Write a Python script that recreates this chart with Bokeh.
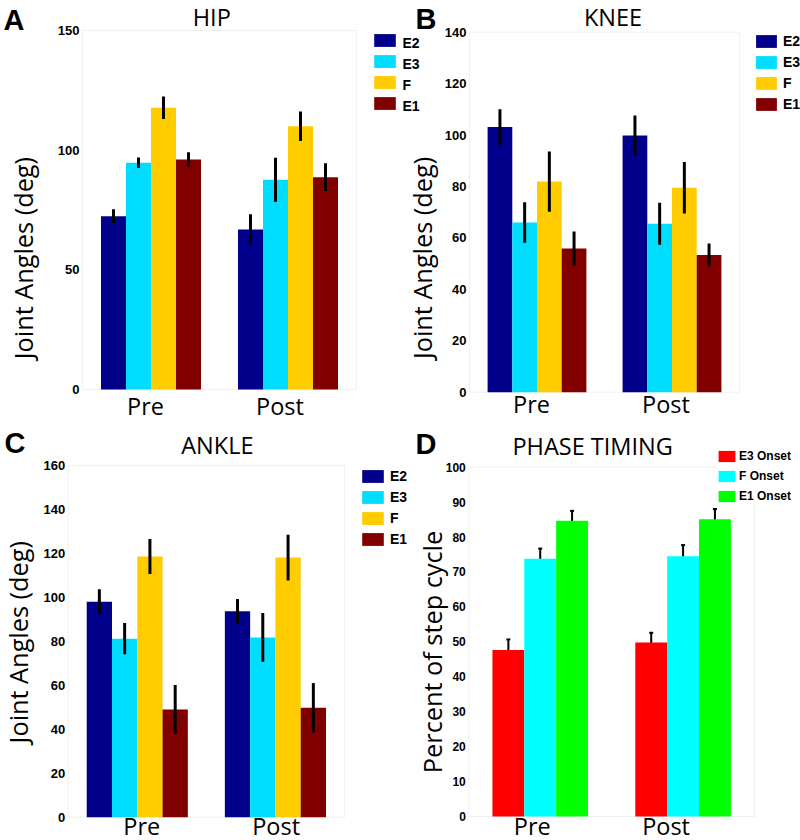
import math
from bokeh.plotting import figure
from bokeh.models import (ColumnDataSource, Range1d, FixedTicker, LinearAxis,
                          Legend, LegendItem, Label, Whisker, TeeHead,
                          BoxAnnotation)
from bokeh.layouts import row, column
from bokeh.transform import dodge
from bokeh.embed import file_html
from bokeh.resources import INLINE

# ---------------- data ----------------
groups = ["Pre", "Post"]

joint_series = ["E2", "E3", "F", "E1"]
joint_colors = ["#00008B", "#00DDFF", "#FFCC00", "#800000"]

hip_pre = [72.4, 94.7, 117.7, 96.1]
hip_pre_err = [2.9, 2.2, 4.7, 3.0]
hip_post = [66.9, 87.6, 110.0, 88.7]
hip_post_err = [6.3, 9.2, 6.2, 5.8]
hip_ticks = [0, 50, 100, 150]

knee_pre = [103.1, 66.0, 81.9, 55.9]
knee_pre_err = [6.9, 7.9, 11.7, 6.6]
knee_post = [99.8, 65.5, 79.5, 53.4]
knee_post_err = [7.8, 8.2, 10.0, 4.4]
knee_ticks = [0, 20, 40, 60, 80, 100, 120, 140]

ankle_pre = [98.0, 81.2, 118.6, 49.0]
ankle_pre_err = [5.7, 7.1, 8.0, 11.1]
ankle_post = [93.7, 81.8, 118.1, 49.8]
ankle_post_err = [5.6, 11.1, 10.4, 11.2]
ankle_ticks = [0, 20, 40, 60, 80, 100, 120, 140, 160]

phase_series = ["E3 Onset", "F Onset", "E1 Onset"]
phase_colors = ["#FF0000", "#00FFFF", "#00FF00"]
phase_pre = [47.7, 73.8, 84.7]
phase_pre_err = [3.0, 2.9, 2.8]
phase_post = [49.8, 74.5, 85.1]
phase_post_err = [2.8, 3.2, 2.9]
phase_ticks = [0, 10, 20, 30, 40, 50, 60, 70, 80, 90, 100]

TITLE_FONT = "Open Sans"
BOLD_FONT = "Liberation Sans"


def make_panel(width, height, box, ymax, ticks, series, colors,
               pre, pre_err, post, post_err, bar_w, err_w, tick_size,
               caps=False):
    # box = (left, right, top, bottom) of the plotting box, in canvas pixels
    bl, br, bt, bb = box
    ppx = (br - bl) / len(groups)
    ppy = (bb - bt) / ymax
    p = figure(width=width, height=height,
               x_range=Range1d(-bl / ppx, len(groups) + (width - br) / ppx),
               y_range=Range1d(-(height - bb) / ppy, ymax + bt / ppy),
               x_axis_location=None, y_axis_location=None,
               output_backend="svg", toolbar_location=None, min_border=0)
    p.outline_line_color = None
    p.xgrid.visible = False
    p.ygrid.visible = False

    ax = LinearAxis(fixed_location=0, ticker=FixedTicker(ticks=ticks))
    ax.axis_line_color = None
    ax.major_tick_line_color = None
    ax.minor_tick_line_color = None
    ax.major_tick_out = 0
    ax.major_tick_in = 0
    ax.minor_tick_out = 0
    ax.minor_tick_in = 0
    ax.major_label_standoff = 3
    ax.major_label_text_font = BOLD_FONT
    ax.major_label_text_font_style = "bold"
    ax.major_label_text_font_size = tick_size
    ax.major_label_text_color = "black"
    p.add_layout(ax, "left")

    p.add_layout(BoxAnnotation(left=0, right=len(groups), bottom=0, top=ymax,
                               fill_alpha=0, line_color="#cfcfcf",
                               line_width=1, level="underlay"))

    data = {"xc": [k + 0.5 for k in range(len(groups))]}
    for i in range(len(series)):
        data[f"m{i}"] = [pre[i], post[i]]
        data[f"lo{i}"] = [pre[i] - pre_err[i], post[i] - post_err[i]]
        data[f"hi{i}"] = [pre[i] + pre_err[i], post[i] + post_err[i]]
    src = ColumnDataSource(data)

    n = len(series)
    renderers = []
    for i in range(n):
        off = (i - (n - 1) / 2) * bar_w
        r = p.vbar(x=dodge("xc", off), top=f"m{i}", width=bar_w, source=src,
                   fill_color=colors[i], line_color=None)
        renderers.append(r)
    for i in range(n):
        off = (i - (n - 1) / 2) * bar_w
        if caps:
            p.add_layout(Whisker(source=src, base=dodge("xc", off),
                                 lower=f"lo{i}", upper=f"hi{i}",
                                 line_width=err_w, line_color="black",
                                 upper_head=TeeHead(size=4, line_width=err_w),
                                 lower_head=TeeHead(size=4, line_width=err_w)))
        else:
            p.segment(x0=dodge("xc", off), y0=f"lo{i}", x1=dodge("xc", off),
                      y1=f"hi{i}", source=src, line_width=err_w,
                      line_color="black")
    return p, renderers


def add_text(p, text, x, y, xo, yo, size, font, style="normal",
             align="center", baseline="alphabetic", angle=0.0):
    p.add_layout(Label(x=x, y=y, x_offset=xo, y_offset=yo, text=text,
                       text_font=font, text_font_style=style,
                       text_font_size=size, text_align=align,
                       text_baseline=baseline, angle=angle,
                       text_color="black"))


def add_common_texts(p, title, letter, ylabel, ymax, t_xo, t_yo, l_xo, l_yo,
                     yl_xo, yl_y, xl_yo, xl_xo):
    add_text(p, title, len(groups) / 2, ymax, t_xo, t_yo, "23.5px", TITLE_FONT)
    add_text(p, letter, 0.0, ymax, l_xo, l_yo, "29px", BOLD_FONT, style="bold",
             align="left")
    add_text(p, ylabel, 0.0, yl_y, yl_xo, 0, "25.3px", TITLE_FONT,
             baseline="middle", angle=math.pi / 2)
    for k, g in enumerate(groups):
        add_text(p, g, k + 0.5, 0, xl_xo[k], xl_yo, "23.5px", TITLE_FONT)


def add_legend(p, renderers, labels, vx, vy, gw, gh, spacing, standoff,
               size, padding=0, bg=None):
    items = [LegendItem(label=lab, renderers=[r])
             for lab, r in zip(labels, renderers)]
    lg = Legend(items=items, location=(vx, vy), orientation="vertical",
                glyph_width=gw, glyph_height=gh, label_height=gh,
                spacing=spacing, padding=padding, margin=0,
                label_standoff=standoff, border_line_color=None,
                label_text_font=BOLD_FONT, label_text_font_style="bold",
                label_text_font_size=size, label_text_color="black")
    if bg is None:
        lg.background_fill_alpha = 0
    else:
        lg.background_fill_color = bg
        lg.background_fill_alpha = 1
    p.add_layout(lg)


# ---------------- panel A: HIP ----------------
pA, rA = make_panel(400, 420, (82, 356, 30, 389), 150, hip_ticks,
                    joint_series, joint_colors, hip_pre, hip_pre_err,
                    hip_post, hip_post_err, 0.1825, 3, "13px")
add_common_texts(pA, "HIP", "A", "Joint Angles (deg)", 150, -7.7, 14, -79,
                 11, -60, 54.9, -16, [-5.5, -8])
add_legend(pA, rA, [" "] * 4, 371, 309.5, 27, 16, 5, 4, "14px")

# ---------------- panel B: KNEE ----------------
pB, rB = make_panel(400, 420, (69, 339, 31.7, 391.7), 140, knee_ticks,
                    joint_series, joint_colors, knee_pre, knee_pre_err,
                    knee_post, knee_post_err, 0.183, 3, "13px")
add_common_texts(pB, "KNEE", "B", "Joint Angles (deg)", 140, 8.5, 15.7, -54,
                 13, -48, 52.2, -12, [-5.5, -6])
add_legend(pB, rB, joint_series, 353, 308, 26, 16, 5, 4, "14px")
# the legend texts of panel A run over into this canvas
for k, s in enumerate(joint_series):
    add_text(pB, s, 0.0, 140, -67, -10.3 - 21 * k, "14px", BOLD_FONT,
             style="bold", align="left", baseline="middle")

# ---------------- panel C: ANKLE ----------------
pC, rC = make_panel(411, 420, (67.7, 344, 45, 396.7), 160, ankle_ticks,
                    joint_series, joint_colors, ankle_pre, ankle_pre_err,
                    ankle_post, ankle_post_err, 0.183, 3, "13px")
add_common_texts(pC, "ANKLE", "C", "Joint Angles (deg)", 160, 11, 21, -63.7,
                 22.3, -50.5, 79.6, -8.3, [4.5, 0.7])
add_legend(pC, rC, joint_series, 359, 293, 27, 16, 5, 4, "14px")

# ---------------- panel D: PHASE TIMING ----------------
pD, rD = make_panel(389, 420, (57.3, 343, 46.7, 396), 100, phase_ticks,
                    phase_series, phase_colors, phase_pre, phase_pre_err,
                    phase_post, phase_post_err, 0.223, 2, "12px", caps=True)
add_common_texts(pD, "PHASE TIMING", "D", "Percent of step cycle", 100, -19,
                 21.7, -53.3, 23.7, -36.6, 47.1, -9, [-8, -17])
add_legend(pD, rD, phase_series, 305, 337.5, 21, 14, 6, 2, "12px",
           padding=2, bg="white")

layout = column(row(pA, pB), row(pC, pD))

with open("out.html", "w") as f:
    f.write(file_html(layout, INLINE))
